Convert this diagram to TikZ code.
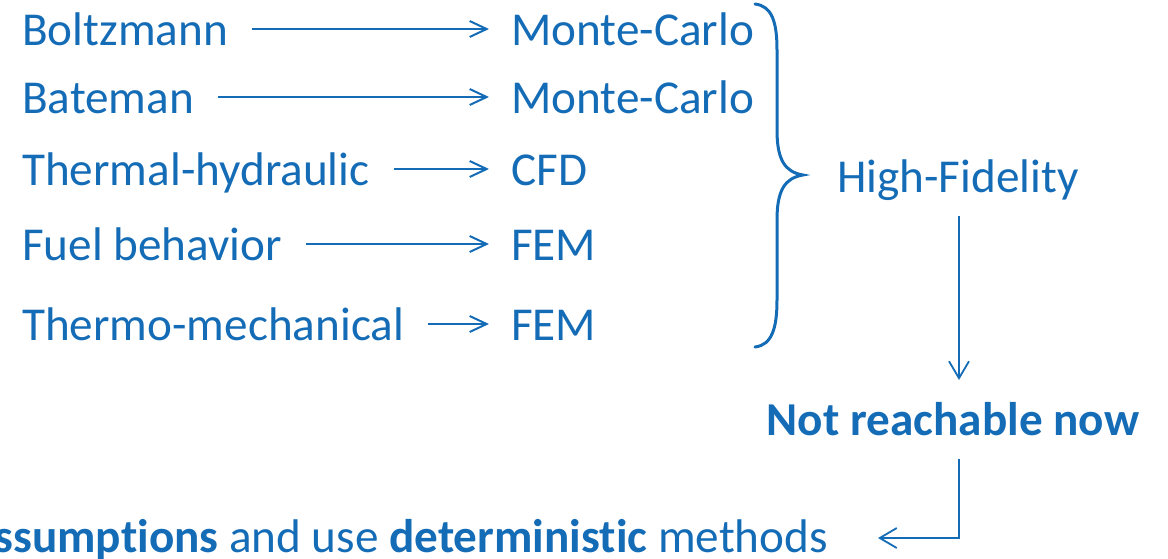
\documentclass[tikz,border=0pt]{standalone}
\usepackage{fontspec}
\setmainfont[Ligatures=NoCommon]{Carlito}
\usetikzlibrary{arrows.meta}
\definecolor{ink}{RGB}{21,108,182}
\begin{document}
\begin{tikzpicture}[x=1pt,y=-1pt,
  every node/.style={inner sep=0pt, text=ink, font=\fontsize{47.2}{56}\selectfont},
  lbl/.style={anchor=base west},
  conn/.style={draw=ink, line width=2pt, -{Straight Barb[length=17pt,width=16pt,line width=2pt]}},
  bigconn/.style={draw=ink, line width=1.8pt, -{Straight Barb[length=17pt,width=20pt,line width=1.8pt]}}]
\useasboundingbox (0,0) rectangle (1168,558);
\clip (0,0) rectangle (1168,558);

% physics models
\node[lbl] (bo) at (22,45) {Boltzmann};
\node[lbl] (ba) at (22,113) {Bateman};
\node[lbl] (th) at (22,185) {Thermal-hydraulic};
\node[lbl] (fb) at (22,260) {Fuel behavior};
\node[lbl] (tm) at (22,340) {Thermo-mechanical};

% numerical methods
\node[lbl] (mc1) at (511,45) {Monte-Carlo};
\node[lbl] (mc2) at (511,113) {Monte-Carlo};
\node[lbl] (cfd) at (511,185) {CFD};
\node[lbl] (fem1) at (511,260) {FEM};
\node[lbl] (fem2) at (511,340) {FEM};

\draw[conn] ([xshift=24pt,yshift=16pt]bo.base east) -- ([xshift=-22pt,yshift=16pt]mc1.base west);
\draw[conn] ([xshift=24pt,yshift=16pt]ba.base east) -- ([xshift=-22pt,yshift=16pt]mc2.base west);
\draw[conn] ([xshift=24pt,yshift=16pt]th.base east) -- ([xshift=-22pt,yshift=16pt]cfd.base west);
\draw[conn] ([xshift=24pt,yshift=16pt]fb.base east) -- ([xshift=-22pt,yshift=16pt]fem1.base west);
\draw[conn] ([xshift=24pt,yshift=16pt]tm.base east) -- ([xshift=-22pt,yshift=16pt]fem2.base west);

% grouping brace
\coordinate (btop) at (755,4);
\coordinate (bbot) at (755,347);
\coordinate (btip) at (803,175);
\draw[ink, line width=3pt, line cap=round]
  (btop) .. controls (772,6) and (777,22) .. (777,50)
  -- (777,130) .. controls (777,160) and (785,172) .. (btip)
  .. controls (785,178) and (777,190) .. (777,220)
  -- (777,300) .. controls (777,328) and (772,345) .. (bbot);

\node[lbl] (hf) at (837,192) {High-Fidelity};
\node[anchor=base, font=\fontsize{47.2}{56}\selectfont\bfseries] (nr) at (953,435) {Not reachable now};
\node[anchor=base east] (det) at (828,552) {\textbf{ssumptions} and use \textbf{deterministic} methods};

% flow down to the conclusion
\coordinate (hfout) at (959,216);
\coordinate (nrin) at (959,380);
\coordinate (nrout) at (959,459);
\coordinate (corner) at (959,538);
\coordinate (detin) at (878,538);
\draw[bigconn] (hfout) -- (nrin);
\draw[bigconn] (nrout) -- (corner) -- (detin);
\end{tikzpicture}
\end{document}
